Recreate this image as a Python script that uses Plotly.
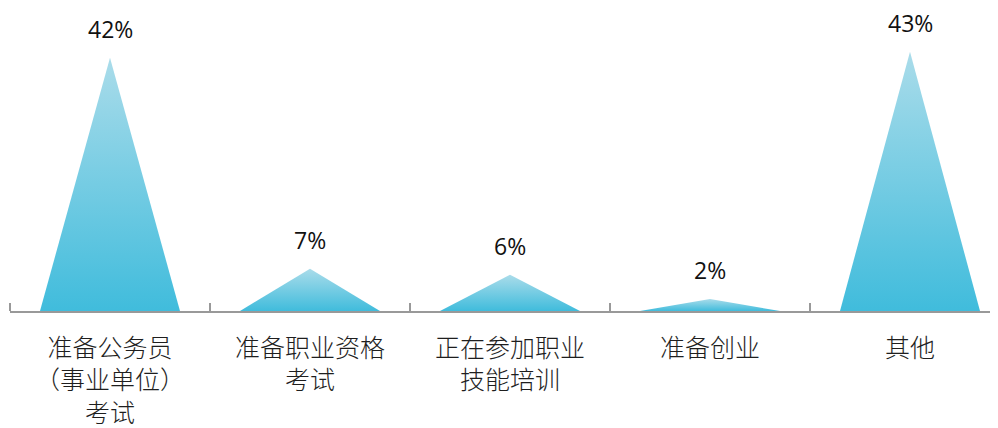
import plotly.graph_objects as go

categories = ["准备公务员<br>（事业单位）<br>考试", "准备职业资格<br>考试", "正在参加职业<br>技能培训", "准备创业", "其他"]
values = [42, 7, 6, 2, 43]
value_labels = ["42%", "7%", "6%", "2%", "43%"]

HALF = 0.35
fig = go.Figure()
for i, v in enumerate(values):
    fig.add_trace(go.Scatter(
        x=[i - HALF, i, i + HALF, i - HALF],
        y=[0, v, 0, 0],
        mode="lines",
        fill="toself",
        line=dict(width=0, color="rgba(0,0,0,0)"),
        fillgradient=dict(type="vertical",
                          colorscale=[[0, "#40bcdc"], [1, "#aadcea"]]),
        hoverinfo="skip",
        showlegend=False,
    ))
    fig.add_annotation(x=i, y=v, text=value_labels[i], showarrow=False,
                       yanchor="bottom", yshift=11,
                       font=dict(family="Open Sans, Noto Sans", size=23, color="#111111"))

fig.update_layout(
    width=990, height=420,
    margin=dict(l=2, r=0, t=0, b=117, autoexpand=False),
    paper_bgcolor="white", plot_bgcolor="white",
    xaxis=dict(
        range=[-0.5, 4.44],
        automargin=False,
        tickmode="array",
        tickvals=list(range(len(categories))),
        ticktext=categories,
        ticks="",
        ticklabelstandoff=14,
        showgrid=False, zeroline=False,
        showline=True, linecolor="#999999", linewidth=1.5,
        tickfont=dict(family="Noto Sans CJK SC", size=25, color="#1e1e1e", weight=300),
        minor=dict(tickmode="linear", tick0=-0.5, dtick=1, ticks="inside",
                   ticklen=8, tickwidth=1.5, tickcolor="#999999", showgrid=False),
        fixedrange=True,
    ),
    yaxis=dict(range=[0, 50.25], visible=False, fixedrange=True, automargin=False),
)

fig.write_html("out.html")
